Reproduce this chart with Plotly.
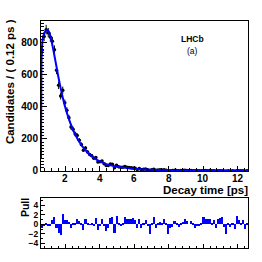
import numpy as np
import plotly.graph_objects as go

# ---- data ----
bin_low = 0.6
bin_width = 0.12
counts = [755, 840, 883, 864, 837, 810, 757, 630, 535, 468,
          505, 426, 379, 333, 275, 261, 231, 221, 192, 166,
          130, 143, 119, 103, 96, 80, 84, 56, 58, 62,
          46, 35, 35, 43, 42, 20, 36, 27, 23, 23,
          28, 23, 22, 20, 19, 17, 10, 16, 8, 11,
          12, 7, 3, 8, 11, 5, 6, 7, 6, 8,
          5, 0, 2, 3, 5, 3, 2, 3, 4, 4,
          3, 2, 3, 2, 1, 1, 1, 2, 3, 3,
          2, 3, 1, 2, 0, 2, 2, 2, 0, 0,
          1, 0, 1, 0, 2, 1, 1, 1, 0, 1]
pulls = [-0.9, -0.5, 0.2, -0.4, -0.2, 0.9, 1.4, -0.8, -1.9, -2.2,
         2.1, 0.9, 0.8, 0.5, -0.8, 0.2, 0.1, 1.1, 0.7, 0.2,
         -1.3, 1.1, 0.2, -0.1, 0.3, -0.3, 1.2, -1.3, -0.2, 1.1,
         -0.4, -1.4, -0.8, 1.2, 1.6, -1.8, 1.7, 0.3, -0.2, 0.2,
         1.6, 1.0, 1.1, 1.0, 1.2, 0.9, -0.8, 1.1, -0.8, 0.3,
         0.9, -0.5, -2.0, 0.3, 1.6, -0.8, 0.1, 0.4, 0.3, 1.1,
         0.2, -2.1, -0.8, -0.7, 0.6, 0.1, -0.6, 0.2, 0.5, 1.1,
         0.6, 0.0, 0.7, 0.1, -0.8, -0.4, -0.4, 0.1, 1.4, 1.1,
         1.0, 1.1, 0.3, 0.9, -0.8, 1.1, 1.2, 1.6, -0.6, -2.0,
         0.2, -0.6, 0.1, -1.0, 1.7, 0.8, 0.3, 0.9, -1.1, 0.3]
curve_t = [0.60, 0.615, 0.63, 0.66, 0.72, 0.80, 0.88, 0.96, 1.04, 1.12,
           1.20, 1.30, 1.40, 1.50, 1.60, 1.70, 1.80, 1.90, 2.00, 2.20,
           2.40, 2.60, 2.80, 3.00, 3.20, 3.40, 3.60, 3.80, 4.00, 4.20,
           4.40, 4.70, 5.00, 5.40, 5.80, 6.20, 6.60, 7.00, 7.50, 8.00,
           8.50, 9.00, 10.0, 11.0, 12.0, 12.6]
curve_y = [80, 450, 680, 780, 835, 862, 876, 880, 874, 850,
           815, 765, 708, 650, 592, 538, 488, 442, 400, 330,
           272, 225, 186, 154, 128, 106, 88, 73, 61, 51,
           43, 34, 27, 21, 16, 12.5, 9.8, 7.7, 5.7, 4.3,
           3.3, 2.5, 1.5, 0.9, 0.55, 0.4]
x_tick_vals = [2, 4, 6, 8, 10, 12]
x_tick_text = ["2", "4", "6", "8", "10", "12"]
pull_tick_vals = [-4, -2, 0, 2, 4]

centers = bin_low + bin_width * (np.arange(len(counts)) + 0.5)

W = H = 262
def px_x(p): return p / W
def px_y(p): return 1 - p / H

FONT = "Liberation Sans"
tickfont = dict(family=FONT, size=10, color="black", weight="bold")
pulltickfont = dict(family=FONT, size=8.5, color="black", weight="bold")
titlefont = dict(family=FONT, size=11.5, color="black", weight="bold")

fig = go.Figure()
fig.add_trace(go.Scatter(
    x=centers, y=counts, mode="markers",
    marker=dict(color="black", size=3.5),
    error_y=dict(type="sqrt", color="black", thickness=1, width=0),
    error_x=dict(type="constant", value=bin_width / 2, color="black", thickness=1, width=0),
    xaxis="x", yaxis="y", showlegend=False))
fig.add_trace(go.Scatter(
    x=curve_t, y=curve_y, mode="lines", line=dict(color="rgb(0,0,255)", width=2, shape="spline"),
    xaxis="x", yaxis="y", showlegend=False))
fig.add_trace(go.Bar(
    x=centers, y=pulls, width=bin_width, marker=dict(color="rgb(0,0,255)", line=dict(width=0)),
    xaxis="x2", yaxis="y2", showlegend=False))

axis_common = dict(showline=True, linecolor="black", linewidth=1, mirror=True,
                   ticks="inside", tickcolor="black", showgrid=False, zeroline=False)

annotations = [
    dict(text="Candidates / ( 0.12 ps )", textangle=-90, x=px_x(10), y=px_y(84),
         xref="paper", yref="paper", showarrow=False, xanchor="center", yanchor="middle",
         font=titlefont),
    dict(text="Decay time [ps]", x=px_x(249), y=px_y(194), xref="paper", yref="paper",
         showarrow=False, xanchor="right", yanchor="middle", font=titlefont, borderpad=0),
    dict(text="Pull", textangle=-90, x=px_x(25), y=px_y(213), xref="paper", yref="paper",
         showarrow=False, xanchor="center", yanchor="middle",
         font=dict(family=FONT, size=10.5, color="black", weight="bold")),
    dict(text="LHCb", x=px_x(192), y=px_y(40), xref="paper", yref="paper",
         showarrow=False, xanchor="center", yanchor="middle",
         font=dict(family=FONT, size=8.5, color="black", weight="bold")),
    dict(text="(a)", x=px_x(192), y=px_y(52), xref="paper", yref="paper",
         showarrow=False, xanchor="center", yanchor="middle",
         font=dict(family=FONT, size=8.5, color="black")),
]
for v, t in zip(x_tick_vals, x_tick_text):
    annotations.append(dict(text=t, x=v, xref="x", y=px_y(183), yref="paper",
                            showarrow=False, xanchor="center", yanchor="middle",
                            font=tickfont, borderpad=0))

fig.update_layout(
    width=W, height=H, margin=dict(l=0, r=0, t=0, b=0),
    paper_bgcolor="white", plot_bgcolor="white", bargap=0,
    xaxis=dict(domain=[px_x(41), px_x(248)], range=[0.6, 12.6], dtick=2, tick0=0,
               ticklen=5, showticklabels=False, anchor="y",
               minor=dict(ticks="inside", ticklen=3, dtick=0.4, tickcolor="black"),
               **axis_common),
    yaxis=dict(domain=[px_y(175), px_y(21)], range=[0, 940], dtick=200, tick0=0,
               ticklen=6, tickfont=tickfont, anchor="x",
               minor=dict(ticks="inside", ticklen=3, dtick=20, tickcolor="black"),
               **axis_common),
    xaxis2=dict(domain=[px_x(41), px_x(248)], range=[0.6, 12.6], dtick=2, tick0=0,
                ticklen=4, showticklabels=False, anchor="y2",
                minor=dict(ticks="inside", ticklen=2, dtick=0.4, tickcolor="black"),
                **axis_common),
    yaxis2=dict(domain=[px_y(254), px_y(203)], range=[-5.0, 5.5], tickvals=pull_tick_vals,
                ticklen=4, tickfont=pulltickfont, anchor="x2",
                minor=dict(ticks="inside", ticklen=2, dtick=1, tickcolor="black"),
                **axis_common),
    annotations=annotations,
)

fig.write_html("out.html", config={"displayModeBar": False},
               post_script="document.body.style.margin='0';document.body.style.overflow='hidden';")
